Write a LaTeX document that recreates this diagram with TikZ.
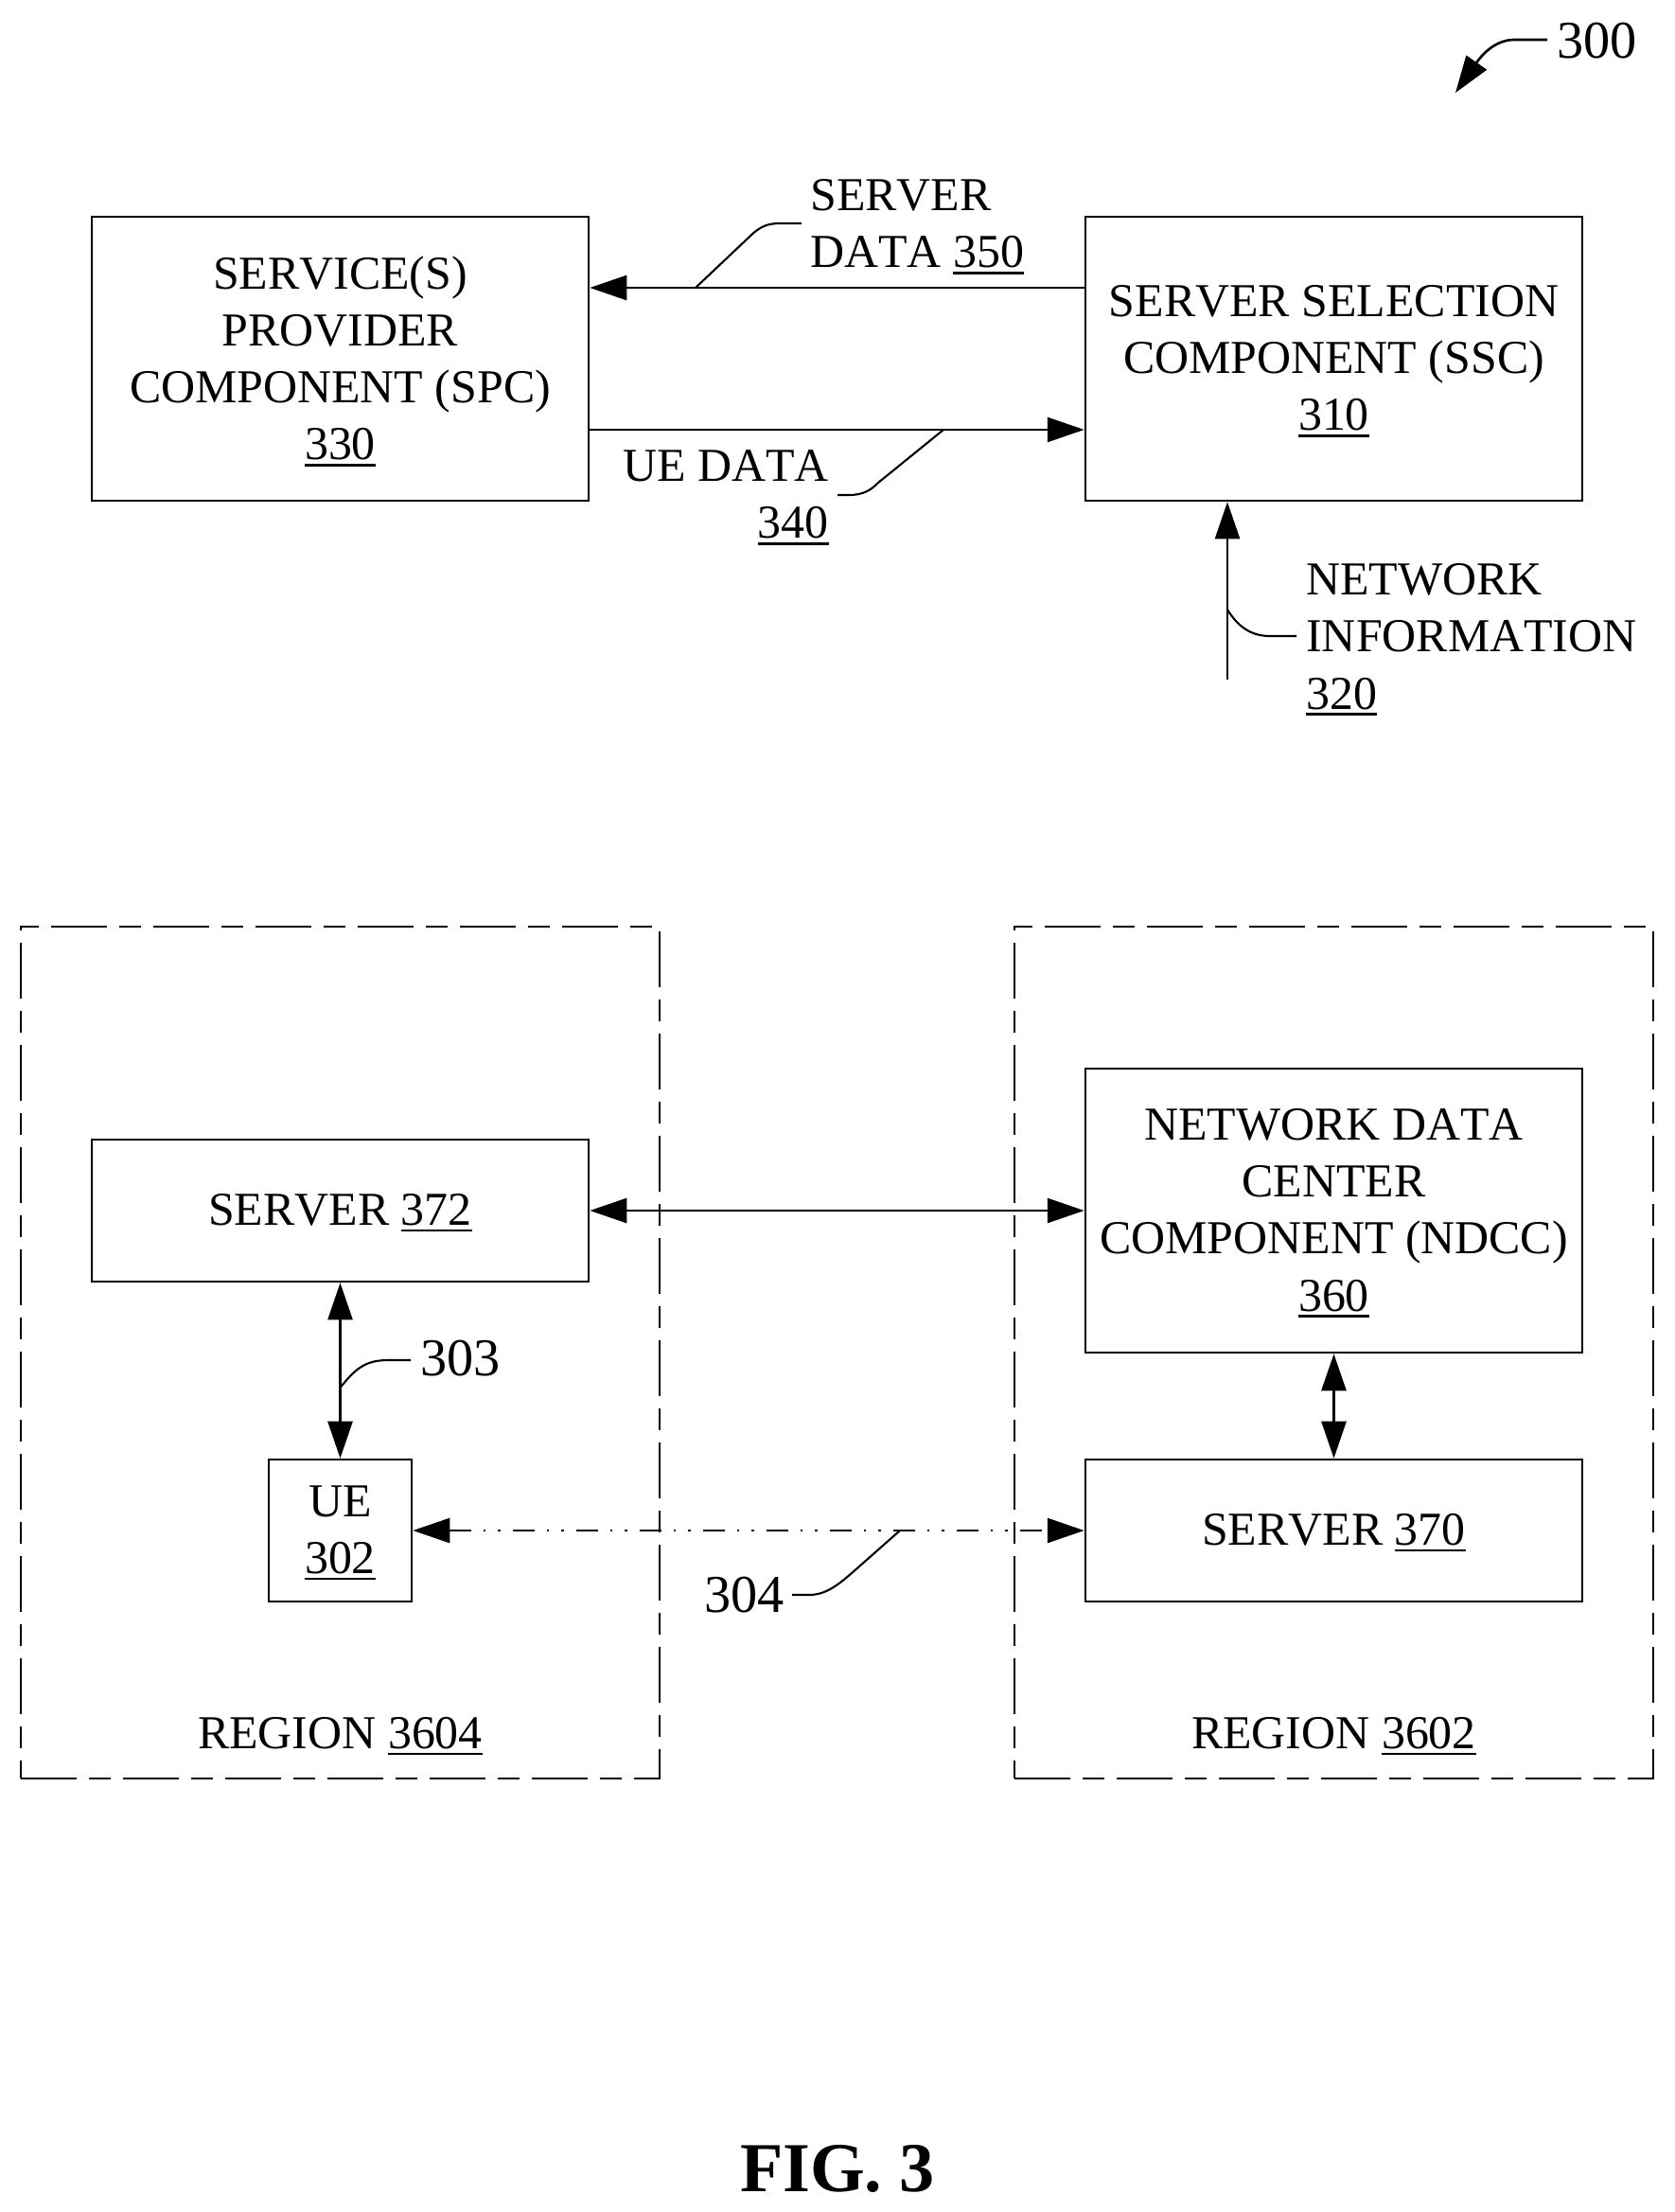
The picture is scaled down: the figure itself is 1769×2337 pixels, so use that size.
\documentclass[tikz,border=0pt]{standalone}
\usepackage{fontspec}
\setmainfont[Kerning=Off]{Liberation Serif}
\usetikzlibrary{arrows.meta}
\newlength{\refwd}
\newcommand{\refnum}[1]{\settowidth{\refwd}{#1}#1\hspace{-\refwd}\rule[-3.8pt]{\refwd}{1.3pt}}
\newcommand{\lblfont}{\fontsize{28.4}{34.3}\selectfont}
\newcommand{\numfont}{\fontsize{32}{38}\selectfont}
\tikzset{
	tip/.tip={Triangle[length=0.78cm,width=0.52cm]},
	compbox/.style={draw, line width=1.5pt, align=center, font=\lblfont, inner sep=0pt, text depth=1pt},
	regionline/.style={line width=1.5pt, dash pattern=on 1.18cm off 0.26cm on 0.46cm off 0.26cm, dash phase=0.8cm},
	lbl/.style={font=\lblfont, inner sep=0pt, text depth=2pt},
	numlbl/.style={font=\numfont, inner sep=0pt, anchor=base west},
	link/.style={line width=1.5pt, tip-tip},
	oneway/.style={line width=1.5pt, -tip},
	wireless/.style={link, dash pattern=on 0.46cm off 0.26cm on 0.05cm off 0.26cm on 0.05cm off 0.26cm},
	leader/.style={line width=1.2pt}
}
\begin{document}
\begin{tikzpicture}[x=0.02cm, y=-0.02cm]
	\useasboundingbox (0,0) rectangle (1769,2337);
	% top part
	\node[compbox, minimum width=10.5cm, minimum height=6cm] (spc) at (359.5,379) {SERVICE(S)\\PROVIDER\\COMPONENT (SPC)\\\refnum{330}};
	\node[compbox, minimum width=10.5cm, minimum height=6cm] (ssc) at (1409.5,379) {SERVER SELECTION\\COMPONENT (SSC)\\\refnum{310}};
	\coordinate (netstart) at (1297,718);
	\draw[oneway] ([yshift=1.5cm]ssc.west) -- ([yshift=1.5cm]spc.east);
	\draw[oneway] ([yshift=-1.5cm]spc.east) -- ([yshift=-1.5cm]ssc.west);
	\draw[oneway] (netstart) -- (netstart |- ssc.south);
	\node[lbl, anchor=west, align=left] (serverdata) at (856,238) {SERVER\\DATA \refnum{350}};
	\node[lbl, anchor=east, align=right] (uedata) at (876,524) {UE DATA\\\refnum{340}};
	\node[lbl, anchor=west, align=left] (netinfo) at (1380,674) {NETWORK\\INFORMATION\\\refnum{320}};
	\coordinate (sdfoot) at (735,304);
	\coordinate (uefoot) at (997,454);
	\coordinate (netfoot) at (1297,644);
	\draw[leader] (847,236) -- (823,236) .. controls (808,236) and (800,242) .. (790,252) -- (sdfoot);
	\draw[leader] (885,523) -- (897,523) .. controls (912,523) and (920,518) .. (928,510) -- (uefoot);
	\draw[leader] (1370,672) -- (1342,672) .. controls (1322,672) and (1308,662) .. (netfoot);
	% fig number
	\node[numlbl] (fignum) at (1645,61) {300};
	\coordinate (figtip) at (1538,98);
	\draw[line width=1.5pt, -tip] (1635,42) -- (1600,42) .. controls (1582,42) and (1568,55) .. (figtip);
	% bottom part
	\draw[regionline] (22,1879) -- (22,979) -- (697,979) -- (697,1879) -- cycle;
	\draw[regionline] (1072,1879) -- (1072,979) -- (1747,979) -- (1747,1879) -- cycle;
	\node[compbox, minimum width=10.5cm, minimum height=3cm] (srvb) at (359.5,1279) {SERVER \refnum{372}};
	\node[compbox, minimum width=10.5cm, minimum height=6cm] (ndcc) at (1409.5,1279) {NETWORK DATA\\CENTER\\COMPONENT (NDCC)\\\refnum{360}};
	\node[compbox, minimum width=10.5cm, minimum height=3cm] (srva) at (1409.5,1617) {SERVER \refnum{370}};
	\node[compbox, minimum width=3.02cm, minimum height=3cm] (ue) at (359.5,1617) {UE\\\refnum{302}};
	\draw[link] (srvb.east) -- (ndcc.west);
	\draw[link] (srvb.south) -- (ue.north);
	\draw[link] (ndcc.south) -- (srva.north);
	\draw[wireless] (ue.east) -- (srva.west);
	\node[numlbl] (lblc) at (444,1453) {303};
	\node[numlbl] (lbld) at (744,1703) {304};
	\coordinate (lcfoot) at (359.5,1466);
	\coordinate (ldfoot) at (951,1617);
	\draw[leader] (434,1437) -- (410,1437) .. controls (385,1437) and (375,1447) .. (lcfoot);
	\draw[leader] (837,1685) -- (855,1685) .. controls (872,1685) and (885,1675) .. (900,1662) -- (ldfoot);
	\node[lbl, anchor=base] (rega) at (359.5,1847.5) {REGION \refnum{3604}};
	\node[lbl, anchor=base] (regb) at (1409.5,1847.5) {REGION \refnum{3602}};
	\node[font=\fontsize{42.2}{50}\selectfont\bfseries, inner sep=0pt, anchor=base] (figlbl) at (885,2315) {FIG. 3};
\end{tikzpicture}
\end{document}
